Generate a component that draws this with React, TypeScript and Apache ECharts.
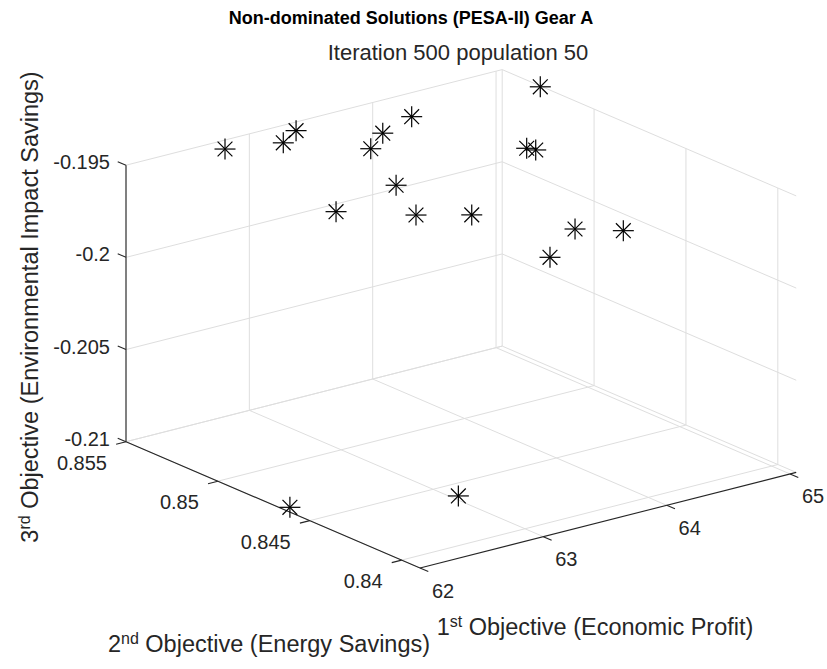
import React, { useEffect, useRef } from 'react';
import * as echarts from 'echarts';

const W = 827;
const H = 669;
const FONT = '"Liberation Sans", Arial, Helvetica, sans-serif';
const INK = '#262626';
const GRID = '#dedede';

// ---- data (objective values of the non-dominated solutions) ----
const economicProfit = [62.755, 63.156, 63.355, 63.746, 63.891, 64.197, 63.713, 63.107, 63.636, 64.088, 65.04, 64.891, 64.845, 64.687, 64.721, 64.484, 62.0, 62.886];
const energySavings = [0.85468, 0.8542, 0.85484, 0.8534, 0.85372, 0.8542, 0.8518, 0.851, 0.8502, 0.8502, 0.85286, 0.8526, 0.8518, 0.8486, 0.8462, 0.8486, 0.84608, 0.84286];
const environmentalImpact = [-0.19527, -0.19541, -0.19536, -0.19639, -0.19593, -0.19576, -0.19763, -0.19769, -0.19843, -0.19919, -0.195, -0.19797, -0.19764, -0.20029, -0.19941, -0.20148, -0.20974, -0.20925];

// ---- axes ----
const X_LIM = [62, 65.05];
const Y_LIM = [0.839, 0.855];
const Z_LIM = [-0.21, -0.195];
const xTicks = [62, 63, 64, 65];
const xTickLabels = ['62', '63', '64', '65'];
const yTicks = [0.84, 0.845, 0.85, 0.855];
const yTickLabels = ['0.84', '0.845', '0.85', '0.855'];
const zTicks = [-0.21, -0.205, -0.2, -0.195];
const zTickLabels = ['-0.21', '-0.205', '-0.2', '-0.195'];

// ---- view (orthographic projection of the 3-D box onto the plane) ----
const ORIGIN = [420, 568];
const EX = [376.2, -95.6];
const EY = [-294, -126.3];
const EZ = [0, -276.5];

function project(x: number, y: number, z: number): number[] {
  const u = (x - X_LIM[0]) / (X_LIM[1] - X_LIM[0]);
  const v = (y - Y_LIM[0]) / (Y_LIM[1] - Y_LIM[0]);
  const w = (z - Z_LIM[0]) / (Z_LIM[1] - Z_LIM[0]);
  return [
    ORIGIN[0] + u * EX[0] + v * EY[0] + w * EZ[0],
    ORIGIN[1] + u * EX[1] + v * EY[1] + w * EZ[1],
  ];
}

const points = economicProfit.map((x, i) => [x, energySavings[i], environmentalImpact[i]]);

function seg(a: number[], b: number[], stroke: string, lw: number) {
  return {
    type: 'line',
    shape: { x1: a[0], y1: a[1], x2: b[0], y2: b[1] },
    style: { stroke, lineWidth: lw },
    silent: true,
  };
}

function label(text: string, x: number, y: number, align: string) {
  return {
    type: 'text',
    silent: true,
    style: {
      text, x, y,
      fill: INK,
      fontSize: 20,
      fontFamily: FONT,
      align, textAlign: align,
      verticalAlign: 'middle', textVerticalAlign: 'middle',
    },
  };
}

function renderFrame(_params: any, api: any) {
  const P = (x: number, y: number, z: number) => api.coord(project(x, y, z));
  const [x0, x1] = X_LIM;
  const [y0, y1] = Y_LIM;
  const [z0, z1] = Z_LIM;
  const c: any[] = [];
  // back wall y = ymax
  xTicks.forEach((x) => c.push(seg(P(x, y1, z0), P(x, y1, z1), GRID, 1)));
  zTicks.forEach((z) => c.push(seg(P(x0, y1, z), P(x1, y1, z), GRID, 1)));
  // back wall x = xmax
  yTicks.forEach((y) => c.push(seg(P(x1, y, z0), P(x1, y, z1), GRID, 1)));
  zTicks.forEach((z) => c.push(seg(P(x1, y0, z), P(x1, y1, z), GRID, 1)));
  // floor z = zmin
  xTicks.forEach((x) => c.push(seg(P(x, y0, z0), P(x, y1, z0), GRID, 1)));
  yTicks.forEach((y) => c.push(seg(P(x0, y, z0), P(x1, y, z0), GRID, 1)));
  // axis lines
  c.push(seg(P(x0, y1, z0), P(x0, y1, z1), INK, 1.1));
  c.push(seg(P(x0, y1, z0), P(x0, y0, z0), INK, 1.1));
  c.push(seg(P(x0, y0, z0), P(x1, y0, z0), INK, 1.1));
  // ticks + labels
  zTicks.forEach((z, i) => {
    c.push(seg(P(x0, y1, z), P(x0, y1 + 0.00045, z), INK, 1.1));
    const p = P(x0, y1, z);
    c.push(label(zTickLabels[i], p[0] - 16, p[1] - 3, 'right'));
  });
  yTicks.forEach((y, i) => {
    c.push(seg(P(x0, y, z0), P(x0 - 0.08, y, z0), INK, 1.1));
    const p = P(x0, y, z0);
    c.push(label(yTickLabels[i], p[0] - 19, p[1] + 21, 'right'));
  });
  xTicks.forEach((x, i) => {
    c.push(seg(P(x, y0, z0), P(x, y0 - 0.00045, z0), INK, 1.1));
    const p = P(x, y0, z0);
    c.push(label(xTickLabels[i], p[0] + 23, p[1] + 22.5, 'center'));
  });
  return { type: 'group', children: c };
}

function renderStar(_params: any, api: any) {
  const [px, py] = api.coord(project(api.value(0), api.value(1), api.value(2)));
  const r = 10.5;
  const d = 7.4;
  const st = '#000000';
  return {
    type: 'group',
    children: [
      seg([px - r, py], [px + r, py], st, 1.2),
      seg([px, py - r], [px, py + r], st, 1.2),
      seg([px - d, py - d], [px + d, py + d], st, 1.2),
      seg([px - d, py + d], [px + d, py - d], st, 1.2),
    ],
  };
}

const richBase = {
  n: { fontSize: 23.5, fontFamily: FONT, fill: INK, lineHeight: 28 },
  s: { fontSize: 16, fontFamily: FONT, fill: INK, lineHeight: 7, verticalAlign: 'top' },
};

function axisTitle(text: string, x: number, y: number, rotation = 0) {
  return {
    type: 'text',
    x, y, rotation,
    silent: true,
    style: {
      text,
      rich: richBase,
      fill: INK,
      fontSize: 23.5,
      fontFamily: FONT,
      align: 'center', textAlign: 'center',
      verticalAlign: 'middle', textVerticalAlign: 'middle',
    },
  };
}

export default function App() {
  const ref = useRef<HTMLDivElement>(null);
  useEffect(() => {
    const chart = echarts.init(ref.current as HTMLDivElement, null, { renderer: 'svg' });
    chart.setOption({
      animation: false,
      backgroundColor: '#ffffff',
      grid: { left: 0, right: 0, top: 0, bottom: 0 },
      xAxis: { type: 'value', min: 0, max: W, show: false },
      yAxis: { type: 'value', min: 0, max: H, inverse: true, show: false },
      graphic: [
        {
          type: 'text', x: 411, y: 18, silent: true,
          style: {
            text: 'Non-dominated Solutions (PESA-II) Gear A',
            fill: '#000', fontSize: 18, fontWeight: 'bold', fontFamily: FONT,
            align: 'center', textAlign: 'center', verticalAlign: 'middle', textVerticalAlign: 'middle',
          },
        },
        {
          type: 'text', x: 458, y: 52, silent: true,
          style: {
            text: 'Iteration 500 population 50',
            fill: INK, fontSize: 22, fontFamily: FONT,
            align: 'center', textAlign: 'center', verticalAlign: 'middle', textVerticalAlign: 'middle',
          },
        },
        axisTitle('{n|1}{s|st}{n| Objective (Economic Profit)}', 595, 627),
        axisTitle('{n|2}{s|nd}{n| Objective (Energy Savings)}', 269, 644),
        axisTitle('{n|3}{s|rd}{n| Objective (Environmental Impact Savings)}', 30, 307, Math.PI / 2),
      ],
      series: [
        {
          type: 'custom',
          coordinateSystem: 'cartesian2d',
          renderItem: renderFrame,
          data: [[0, 0]],
          z: 1,
          silent: true,
        },
        {
          type: 'custom',
          coordinateSystem: 'cartesian2d',
          renderItem: renderStar,
          dimensions: ['profit', 'energy', 'impact'],
          encode: { x: 0, y: 1 },
          data: points,
          z: 2,
          silent: true,
        },
      ],
    });
    return () => chart.dispose();
  }, []);
  return (
    <div
      ref={ref}
      style={{ position: 'fixed', left: 0, top: 0, width: W, height: H, background: '#fff' }}
    />
  );
}
